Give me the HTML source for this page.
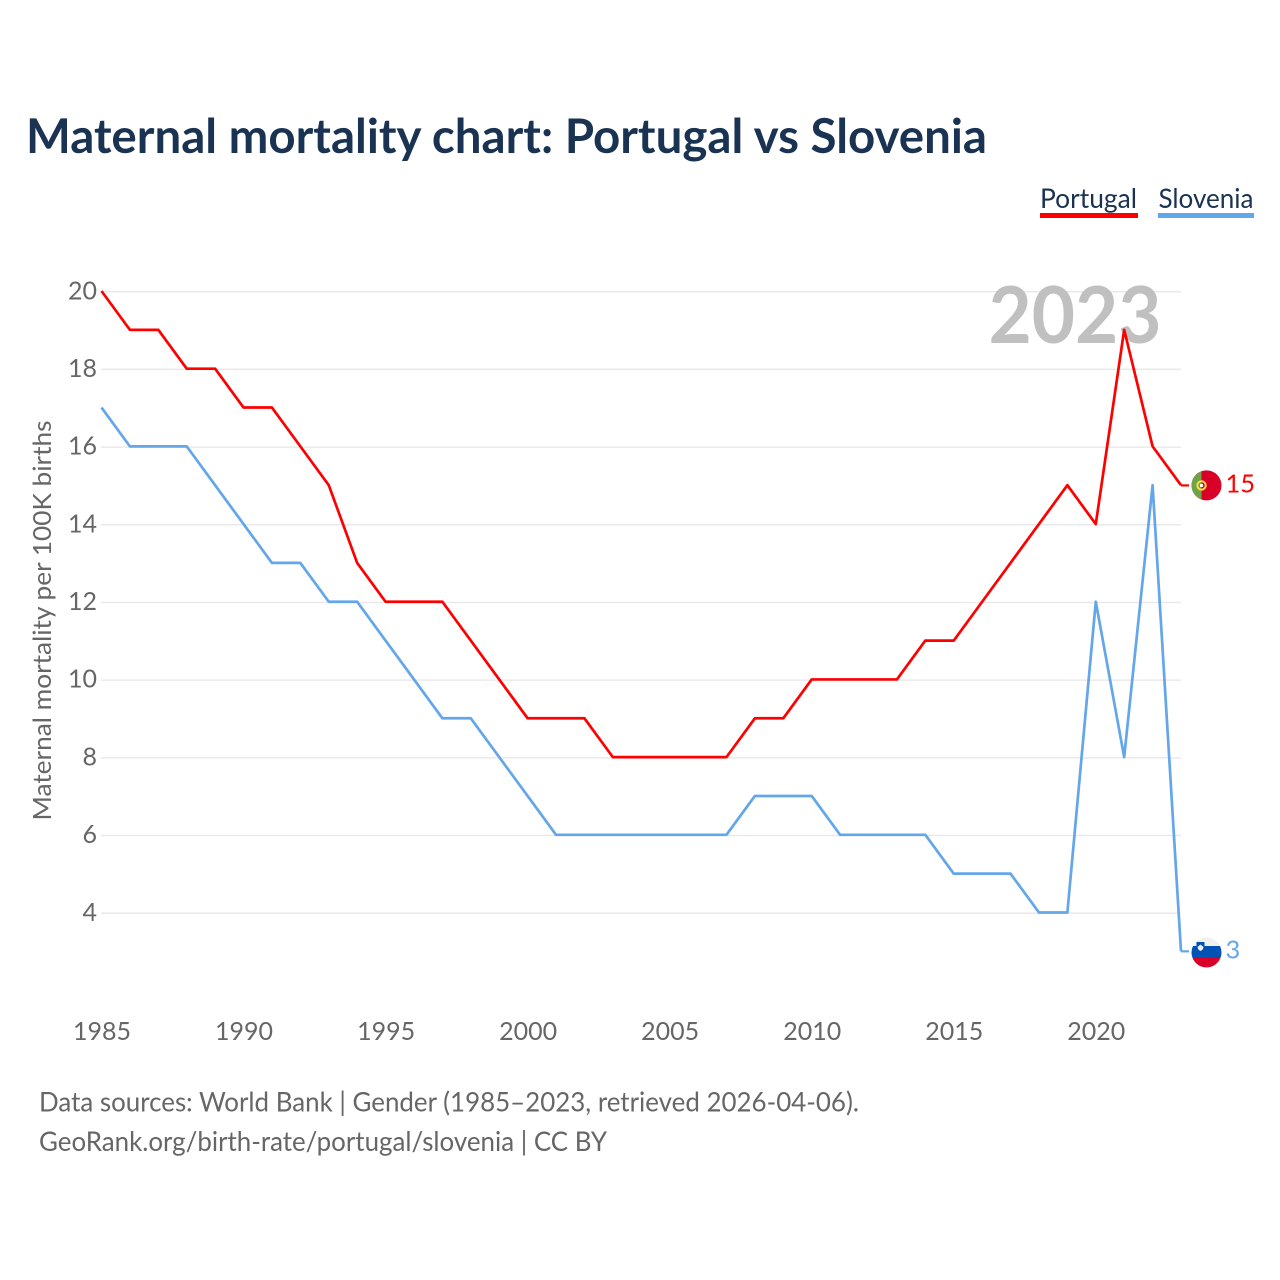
<!DOCTYPE html>
<html lang="en">
<head>
<meta charset="utf-8">
<title>Maternal mortality chart: Portugal vs Slovenia</title>
<style>
html,body{margin:0;padding:0;background:#fff;}
svg{display:block;}
text{font-family:"Lato","Carlito","Liberation Sans",sans-serif;}
</style>
</head>
<body>
<svg id="chart" xmlns="http://www.w3.org/2000/svg" width="1280" height="1280" viewBox="0 0 1280 1280">
  <rect x="0" y="0" width="1280" height="1280" fill="#ffffff"/>
  <text x="26" y="153" font-size="47.5" font-weight="700" fill="#1a3353" textLength="961" lengthAdjust="spacingAndGlyphs">Maternal mortality chart: Portugal vs Slovenia</text>

  <g>
    <text x="1040" y="208" font-size="27.5" fill="#1a3353" textLength="97" lengthAdjust="spacingAndGlyphs">Portugal</text>
    <rect x="1040" y="213" width="98" height="5" fill="#ff0000"/>
  </g>
  <g>
    <text x="1158.5" y="208" font-size="27.5" fill="#1a3353" textLength="95" lengthAdjust="spacingAndGlyphs">Slovenia</text>
    <rect x="1158" y="213" width="96" height="5" fill="#63a6ea"/>
  </g>

  <g id="gridlines"></g>
  <g id="y-ticks"></g>
  <g id="x-ticks"></g>

  <text transform="translate(51 820.5) rotate(-90)" x="0" y="0" font-size="25.5" fill="#666666" textLength="400" lengthAdjust="spacingAndGlyphs">Maternal mortality per 100K births</text>

  <text x="988.5" y="343" font-size="79" font-weight="700" fill="#c0c0c0" textLength="173" lengthAdjust="spacingAndGlyphs">2023</text>

  <g id="series"></g>
  <g id="end-labels"></g>

  <text x="39" y="1111.5" font-size="27" fill="#666666" textLength="820" lengthAdjust="spacingAndGlyphs">Data sources: World Bank | Gender (1985–2023, retrieved 2026-04-06).</text>
  <text x="39" y="1151" font-size="27" fill="#666666" textLength="568" lengthAdjust="spacingAndGlyphs">GeoRank.org/birth-rate/portugal/slovenia | CC BY</text>
</svg>
<script>
const years = [1985,1986,1987,1988,1989,1990,1991,1992,1993,1994,1995,1996,1997,1998,1999,2000,2001,2002,2003,2004,2005,2006,2007,2008,2009,2010,2011,2012,2013,2014,2015,2016,2017,2018,2019,2020,2021,2022,2023];
const portugalValues = [20,19,19,18,18,17,17,16,15,13,12,12,12,11,10,9,9,9,8,8,8,8,8,9,9,10,10,10,10,11,11,12,13,14,15,14,19,16,15];
const sloveniaValues = [17,16,16,16,15,14,13,13,12,12,11,10,9,9,8,7,6,6,6,6,6,6,6,7,7,7,6,6,6,6,5,5,5,4,4,12,8,15,3];
const yTickLabels = [4,6,8,10,12,14,16,18,20];
const xTickLabels = [1985,1990,1995,2000,2005,2010,2015,2020];

const NS = 'http://www.w3.org/2000/svg';
function xScale(year){ return 101.5 + (year - 1985) * (1181 - 101.5) / (2023 - 1985); }
function yScale(v){ return 912.5 - (v - 4) * (912.5 - 291) / (20 - 4); }
function make(tag, attrs, parent){
  const el = document.createElementNS(NS, tag);
  for (const k in attrs) el.setAttribute(k, attrs[k]);
  parent.appendChild(el);
  return el;
}

const gridG = document.getElementById('gridlines');
const yG = document.getElementById('y-ticks');
yTickLabels.forEach(function(v){
  const gy = yScale(v) + 0.7;
  const line = make('line', {x1:101, x2:1181, y1:gy, y2:gy, stroke:'#e9e9e9', 'stroke-width':1.5}, gridG);
  
  
  const t = make('text', {x:97, y:yScale(v) + 8.3, 'text-anchor':'end', 'font-size':25, fill:'#666666'}, yG);
  t.textContent = v;
  
  
});

const xG = document.getElementById('x-ticks');
xTickLabels.forEach(function(y){
  const t = make('text', {x:xScale(y) + 0.5, y:1040, 'text-anchor':'middle', 'font-size':25, fill:'#666666'}, xG);
  t.textContent = y;
  
  
});

function points(values){
  return values.map(function(v, i){ return xScale(years[i]).toFixed(2) + ',' + yScale(v).toFixed(2); }).join(' ');
}
const seriesG = document.getElementById('series');
const lineP = make('polyline', {points:points(portugalValues), fill:'none', stroke:'#ff0000', 'stroke-width':2.7, 'stroke-linejoin':'round'}, seriesG);


const lineS = make('polyline', {points:points(sloveniaValues), fill:'none', stroke:'#63a6ea', 'stroke-width':2.7, 'stroke-linejoin':'round'}, seriesG);



const endG = document.getElementById('end-labels');
const lastYear = years[years.length - 1];
const endX = xScale(lastYear);

// Portugal end marker
const pv = portugalValues[portugalValues.length - 1];
const py = yScale(pv);
const pGroup = make('g', {transform:'translate(' + (endX + 25.5) + ' ' + (py + 0.2) + ')'}, endG);


make('line', {x1:-25.5, x2:-17.5, y1:0, y2:0, stroke:'#ff0000', 'stroke-width':2.2}, pGroup);
make('circle', {cx:0, cy:0, r:15, fill:'#d80027'}, pGroup);
make('path', {d:'M-5,-14.1 A15,15 0 0 0 -5,14.1 Z', fill:'#6da544'}, pGroup);
make('circle', {cx:-5, cy:0, r:4.2, fill:'none', stroke:'#ffda44', 'stroke-width':2}, pGroup);
make('rect', {x:-6.5, y:-1.5, width:3, height:3, fill:'#ffffff'}, pGroup);
const pLabel = make('text', {x:endX + 44.5, y:py + 7.5, 'font-size':25.5, fill:'#ff0000'}, endG);
pLabel.textContent = pv;



// Slovenia end marker
const sv = sloveniaValues[sloveniaValues.length - 1];
const sy = yScale(sv);
const sGroup = make('g', {transform:'translate(' + (endX + 25.5) + ' ' + (sy + 1.2) + ')'}, endG);


make('line', {x1:-25.5, x2:-17.5, y1:-1.2, y2:-1.2, stroke:'#63a6ea', 'stroke-width':2.2}, sGroup);
make('circle', {cx:0, cy:0, r:15, fill:'#f0f0f0'}, sGroup);
make('path', {d:'M-13.5,-6.5 H13.5 A15,15 0 0 1 15,0 A15,15 0 0 1 14.1,5 H-14.1 A15,15 0 0 1 -15,0 A15,15 0 0 1 -13.5,-6.5 Z', fill:'#0052b4'}, sGroup);
make('path', {d:'M-14.1,5 H14.1 A15,15 0 0 1 -14.1,5 Z', fill:'#d80027'}, sGroup);
make('path', {d:'M-10,-10.5 H-2 V-4.5 Q-2,-2 -6,-0.5 Q-10,-2 -10,-4.5 Z', fill:'#0052b4'}, sGroup);
make('path', {d:'M-9,-5.5 L-6,-8 L-3,-5.5 Q-3,-3 -6,-1.5 Q-9,-3 -9,-5.5 Z', fill:'#f0f0f0'}, sGroup);
const sLabel = make('text', {x:endX + 44.5, y:sy + 7, 'font-size':25.5, fill:'#63a6ea'}, endG);
sLabel.textContent = sv;


</script>
</body>
</html>
